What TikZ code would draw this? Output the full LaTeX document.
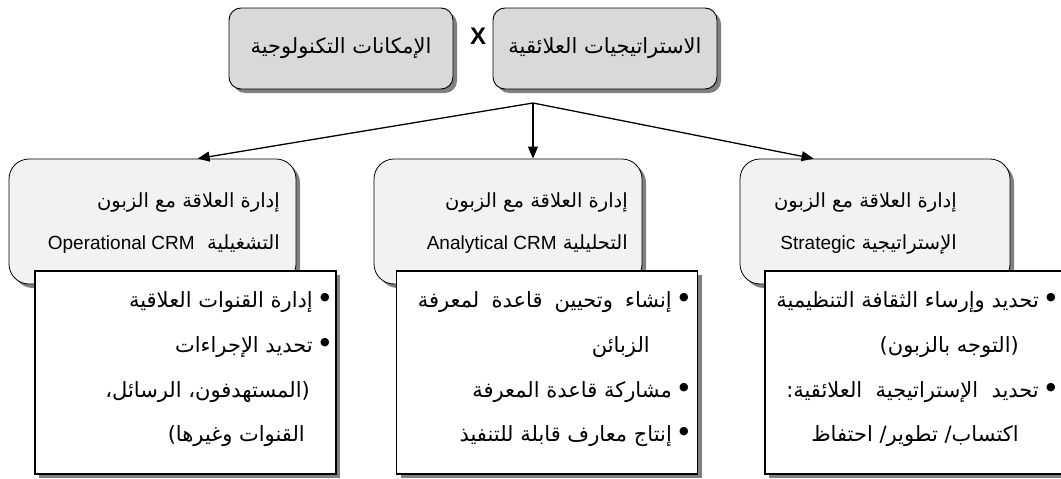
\documentclass[tikz,border=0pt]{standalone}
\usepackage{fontspec}
\setmainfont{Liberation Sans}
\newfontfamily\arabicfont[Script=Arabic]{DejaVu Sans}
\newfontfamily\latinfont{Liberation Sans}
\newfontfamily\symfont{DejaVu Sans}
\TeXXeTstate=1
\usetikzlibrary{shadows,arrows.meta,calc}
\definecolor{topgray}{HTML}{D9D9D9}
\definecolor{lightgray}{HTML}{F2F2F2}
\definecolor{shadowgray}{HTML}{808080}
\newcommand\rtl[1]{\beginR#1\endR}
\newcommand\ltr[1]{\beginL{\latinfont\fontsize{19}{22}\selectfont #1}\endL}
\begin{document}
\begin{tikzpicture}[x=1pt,y=-1pt,
  shad/.style={drop shadow={shadow xshift=4pt,shadow yshift=-4pt,fill=shadowgray,opacity=1}},
  topbox/.style={draw=black,line width=0.9pt,fill=topgray,rounded corners=12pt,shad,
    minimum width=224pt,minimum height=81pt,inner sep=0pt,
    font=\arabicfont\fontsize{21}{25}\selectfont},
  graybox/.style={draw=black,line width=0.8pt,fill=lightgray,rounded corners=20pt,shad,
    minimum height=125pt,inner sep=0pt},
  whitebox/.style={draw=black,line width=1.1pt,fill=white,shad,
    minimum width=301pt,minimum height=203pt,inner sep=0pt},
  txt/.style={font=\arabicfont\fontsize{21}{25}\selectfont,inner sep=0pt,anchor=base east},
  gtxt/.style={txt,font=\arabicfont\fontsize{19.5}{24}\selectfont},
  bul/.style={font=\symfont\fontsize{11}{11}\selectfont,inner sep=0pt,anchor=center},
  arr/.style={line width=1.3pt,-{Triangle[length=12pt,width=10pt]}},
  xmark/.style={font=\latinfont\bfseries\fontsize{24}{24}\selectfont,inner sep=0pt}
]
\useasboundingbox (0,0) rectangle (1061,479);
\clip (0,0) rectangle (1061,479);

% top boxes
\node[topbox] (tech) at (341,48.5) {\rtl{الإمكانات التكنولوجية}};
\node[topbox] (strat) at (605,48.5) {\rtl{الاستراتيجيات العلائقية}};
\node[xmark] (x) at (478,36) {X};

% junction and arrows
\coordinate (j) at (533,103);

% gray boxes
\node[graybox,minimum width=287pt] (lg) at (152.5,221.5) {};
\node[graybox,minimum width=268pt] (mg) at (508,221.5) {};
\node[graybox,minimum width=270pt] (rg) at (875,221.5) {};

\draw[arr] (j) -- ($(lg.north west)+(189,0)$);
\draw[arr] (j) -- (j |- mg.north);
\draw[arr] (j) -- ($(rg.north west)+(74,0)$);

% white boxes
\node[whitebox] (lw) at (185.5,372.5) {};
\node[whitebox] (mw) at (547,372.5) {};
\node[whitebox,minimum width=315pt] (rw) at (922.5,372.5) {};

% left column texts
\node[gtxt] (lg1) at (280,207) {\rtl{إدارة العلاقة مع الزبون}};
\node[gtxt] (lg2) at (280,249) {\rtl{التشغيلية\ \ \ltr{Operational CRM}}};
\node[bul] (lb1) at (325,298) {●};
\node[txt] (lw1) at (313,307) {\rtl{إدارة القنوات العلاقية}};
\node[bul] (lb2) at (325,343) {●};
\node[txt] (lw2) at (313,352) {\rtl{تحديد الإجراءات}};
\node[txt] (lw3) at (310,397) {\rtl{(المستهدفون، الرسائل،}};
\node[txt] (lw4) at (305,441) {\rtl{القنوات وغيرها)}};

% middle column texts
\node[gtxt] (mg1) at (628,207) {\rtl{إدارة العلاقة مع الزبون}};
\node[gtxt] (mg2) at (628,249) {\rtl{التحليلية \ltr{Analytical CRM}}};
\node[bul] (mb1) at (684,298) {●};
\node[txt] (mw1) at (672,307) {\hbox to 254pt{\beginR إنشاء\hfill وتحيين\hfill قاعدة\hfill لمعرفة\endR}};
\node[txt] (mw2) at (650,352) {\rtl{الزبائن}};
\node[bul] (mb3) at (684,388) {●};
\node[txt] (mw3) at (672,397) {\rtl{مشاركة قاعدة المعرفة}};
\node[bul] (mb4) at (684,432) {●};
\node[txt] (mw4) at (672,441) {\rtl{إنتاج معارف قابلة للتنفيذ}};

% right column texts
\node[gtxt] (rg1) at (957,207) {\rtl{إدارة العلاقة مع الزبون}};
\node[gtxt] (rg2) at (957,249) {\rtl{الإستراتيجية \ltr{Strategic}}};
\node[bul] (rb1) at (1051,298) {●};
\node[txt] (rw1) at (1039,307) {\rtl{تحديد وإرساء الثقافة التنظيمية}};
\node[txt] (rw2) at (1019,352) {\rtl{(التوجه بالزبون)}};
\node[bul] (rb3) at (1051,388) {●};
\node[txt] (rw3) at (1039,397) {\rtl{تحديد\ \ الإستراتيجية\ \ العلائقية:}};
\node[txt] (rw4) at (1019,441) {\rtl{اكتساب/ تطوير/ احتفاظ}};
\end{tikzpicture}
\end{document}
